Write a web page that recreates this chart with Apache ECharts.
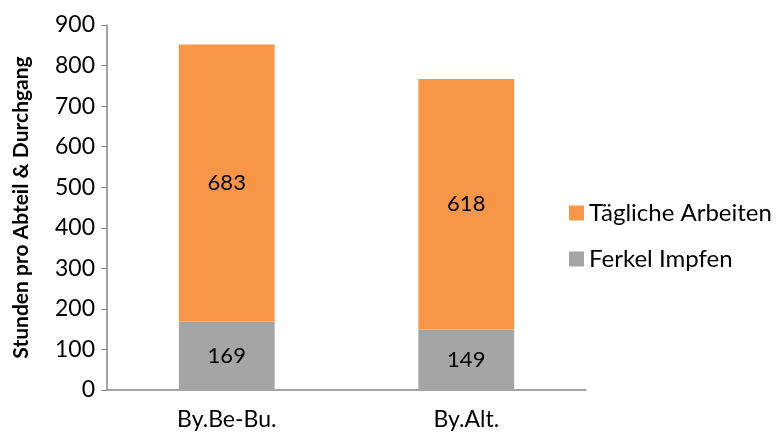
<!DOCTYPE html>
<html>
<head>
<meta charset="utf-8">
<script src="https://cdn.jsdelivr.net/npm/echarts@6/dist/echarts.min.js"></script>
<style>
  html, body { margin: 0; padding: 0; background: #fff; }
  #chart { width: 777px; height: 434px; }
</style>
</head>
<body>
<div id="chart"></div>
<script>
// data
const categories = ["By.Be-Bu.", "By.Alt."];
const ferkelImpfen = [169, 149];
const taeglicheArbeiten = [683, 618];
const yTicks = { min: 0, max: 900, interval: 100 };

const font = "Lato, 'Open Sans', sans-serif";

const chart = echarts.init(document.getElementById("chart"));
chart.setOption({
  animation: false,
  textStyle: { fontFamily: font },
  grid: { left: 107, right: 191, top: 25, bottom: 44, outerBoundsMode: "none", containLabel: false },
  legend: {
    orient: "vertical",
    left: 564,
    top: 196,
    itemWidth: 15,
    itemHeight: 15,
    itemGap: 22,
    icon: "rect",
    data: ["Tägliche Arbeiten", "Ferkel Impfen"],
    textStyle: { fontSize: 24, color: "#000", fontFamily: font },
  },
  xAxis: {
    type: "category",
    data: categories,
    axisLine: { lineStyle: { color: "#868686", width: 1.5 } },
    axisTick: { alignWithLabel: false, length: 6, lineStyle: { color: "#868686" } },
    axisLabel: { fontSize: 23, color: "#000", margin: 18 },
  },
  yAxis: {
    type: "value",
    min: yTicks.min,
    max: yTicks.max,
    interval: yTicks.interval,
    name: "Stunden pro Abteil & Durchgang",
    nameLocation: "middle",
    nameGap: 75,
    nameTextStyle: { fontSize: 21, fontWeight: "bold", color: "#000" },
    axisLine: { show: true, lineStyle: { color: "#868686", width: 1.5 } },
    axisTick: { show: true, length: 6, lineStyle: { color: "#868686" } },
    axisLabel: { fontSize: 23, color: "#000", margin: 12 },
    splitLine: { show: false },
  },
  series: [
    {
      name: "Ferkel Impfen",
      type: "bar",
      stack: "total",
      barWidth: "40%",
      data: ferkelImpfen,
      itemStyle: { color: "#A5A5A5" },
      label: { show: true, position: "inside", fontSize: 22, color: "#000" },
    },
    {
      name: "Tägliche Arbeiten",
      type: "bar",
      stack: "total",
      barWidth: "40%",
      data: taeglicheArbeiten,
      itemStyle: { color: "#F79646" },
      label: { show: true, position: "inside", fontSize: 22, color: "#000" },
    },
  ],
});
</script>
</body>
</html>
